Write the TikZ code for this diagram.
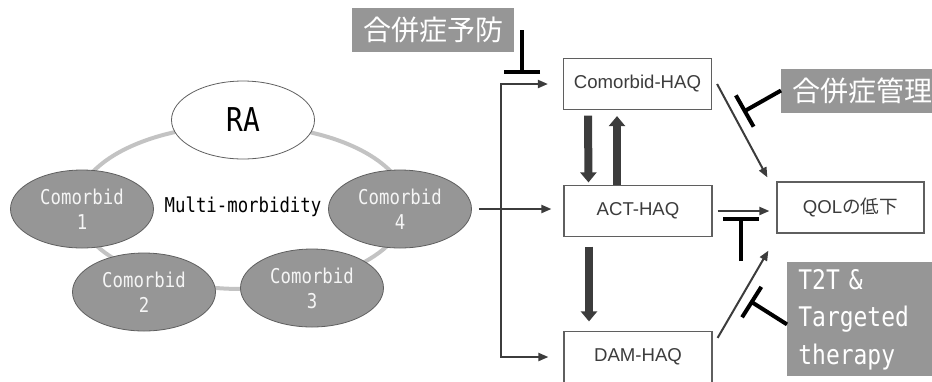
\documentclass[tikz,border=0pt]{standalone}
\usepackage{fontspec}
\setmainfont{Liberation Sans}
\newfontfamily\GothFont[FakeStretch=0.85]{DejaVu Sans Mono}
\newfontfamily\JpFont{Noto Sans CJK JP}
\usepackage{tikz}
\usetikzlibrary{shapes.geometric}
\usetikzlibrary{arrows.meta}
\definecolor{ColFill}{RGB}{150,150,150}
\definecolor{ColEdge}{RGB}{95,95,95}
\definecolor{ColRing}{RGB}{195,195,195}
\definecolor{ColLine}{RGB}{60,60,60}
\definecolor{ColText}{RGB}{245,245,245}
\tikzstyle{NodeComorb}=[ellipse,draw=ColEdge,fill=ColFill,inner sep=0pt,minimum width=71.5pt,
minimum height=39pt,text=ColText,align=center,font=\GothFont\fontsize{10.2}{12.5}\selectfont]
\tikzstyle{NodeHAQ}=[rectangle,draw=ColEdge,fill=white,line width=0.6pt,minimum width=74pt,
minimum height=25.5pt,text=ColLine,font=\fontsize{9.3}{11}\selectfont]
\tikzstyle{NodeLabel}=[rectangle,fill=ColFill,text=white,inner xsep=5.5pt,minimum height=22pt,
font=\JpFont\fontsize{14}{16}\selectfont]
\tikzstyle{EdgeFlow}=[ColLine,line width=1pt,-{Triangle[length=5pt,width=4pt]}]
\tikzstyle{EdgeFat}=[ColLine,line width=4pt,-{Triangle[length=5pt,width=8pt]}]
\tikzstyle{EdgeInhib}=[black,line width=2pt,-{Bar[width=18pt]}]

\begin{document}
\begin{tikzpicture}[x=0.5pt,y=-0.5pt]
        \useasboundingbox(0,0)rectangle(932,381);
        % ring of comorbidities round RA
        \draw[ColRing,line width=2pt](242,207)ellipse[x radius=82.5pt,y radius=41pt];
        \node[NodeComorb,fill=white,text=black,font=\GothFont\fontsize{16.4}{18}\selectfont](ra)at(243,120){RA};
        \node[NodeComorb](c1)at(82,209){Comorbid\\1};
        \node[NodeComorb](c2)at(144,292){Comorbid\\2};
        \node[NodeComorb](c3)at(312,288){Comorbid\\3};
        \node[NodeComorb](c4)at(400,209){Comorbid\\4};
        \node[font=\GothFont\fontsize{10.2}{12}\selectfont](mm)at(243,207){Multi-morbidity};
        % HAQ boxes and outcome
        \node[NodeHAQ](chaq)at(637.5,84){Comorbid-HAQ};
        \node[NodeHAQ](act)at(638,211){ACT-HAQ};
        \node[NodeHAQ](dam)at(638,357){DAM-HAQ};
        \node[NodeHAQ,minimum width=73.5pt](qol)at(850.5,207.5){QOL\JpFont の低下};
        % interventions
        \node[NodeLabel](prev)at(433,30){合併症予防};
        \node[NodeLabel,anchor=west](mgmt)at(781,90.5){合併症管理};
        \node[NodeLabel,anchor=north west,align=left,text width=75pt,minimum height=56.5pt,
        font=\GothFont\fontsize{13.5}{18.75}\selectfont](t2t)at(787,262){T2T \&\\Targeted\\therapy};
        % flows
        \coordinate(fork)at(501,208);
        \draw[EdgeFlow]([xshift=3.5pt]c4.east)--([xshift=-6pt]c4.east-|act.west);
        \draw[EdgeFlow](fork)|-([xshift=-7.5pt]chaq.west);
        \draw[EdgeFlow](fork)|-([xshift=-7.5pt]dam.west);
        \draw[EdgeFat]([shift={(-24.75pt,-2.75pt)}]chaq.south)--([shift={(-24.75pt,1.25pt)}]act.north);
        \draw[EdgeFat]([xshift=-10.5pt]act.north)--([shift={(-10.25pt,-3pt)}]chaq.south);
        \draw[EdgeFat]([shift={(-24.5pt,-4.75pt)}]act.south)--([shift={(-24.5pt,4.75pt)}]dam.north);
        \draw[EdgeFlow]([xshift=2.5pt]chaq.east)--([shift={(-4.5pt,2pt)}]qol.north west);
        \draw[EdgeFlow]([xshift=2.5pt]act.east)--([xshift=-3.5pt]act.east-|qol.west);
        \draw[EdgeFlow]([shift={(2.5pt,-3.5pt)}]dam.north east)--([shift={(-4pt,-8.5pt)}]qol.south west);
        % inhibitors
        \coordinate(prevbar)at(522,74);
        \coordinate(mgmtbar)at(743,112);
        \coordinate(actfoot)at(741,261);
        \coordinate(actbar)at(741,217);
        \coordinate(t2tbar)at(750,301);
        \draw[EdgeInhib](prev.east-|prevbar)--(prevbar);
        \draw[EdgeInhib](mgmt.west)--(mgmtbar);
        \draw[EdgeInhib](actfoot)--(actbar);
        \draw[EdgeInhib]([yshift=-2.5pt]t2t.west)--(t2tbar);
    \end{tikzpicture}
\end{document}
